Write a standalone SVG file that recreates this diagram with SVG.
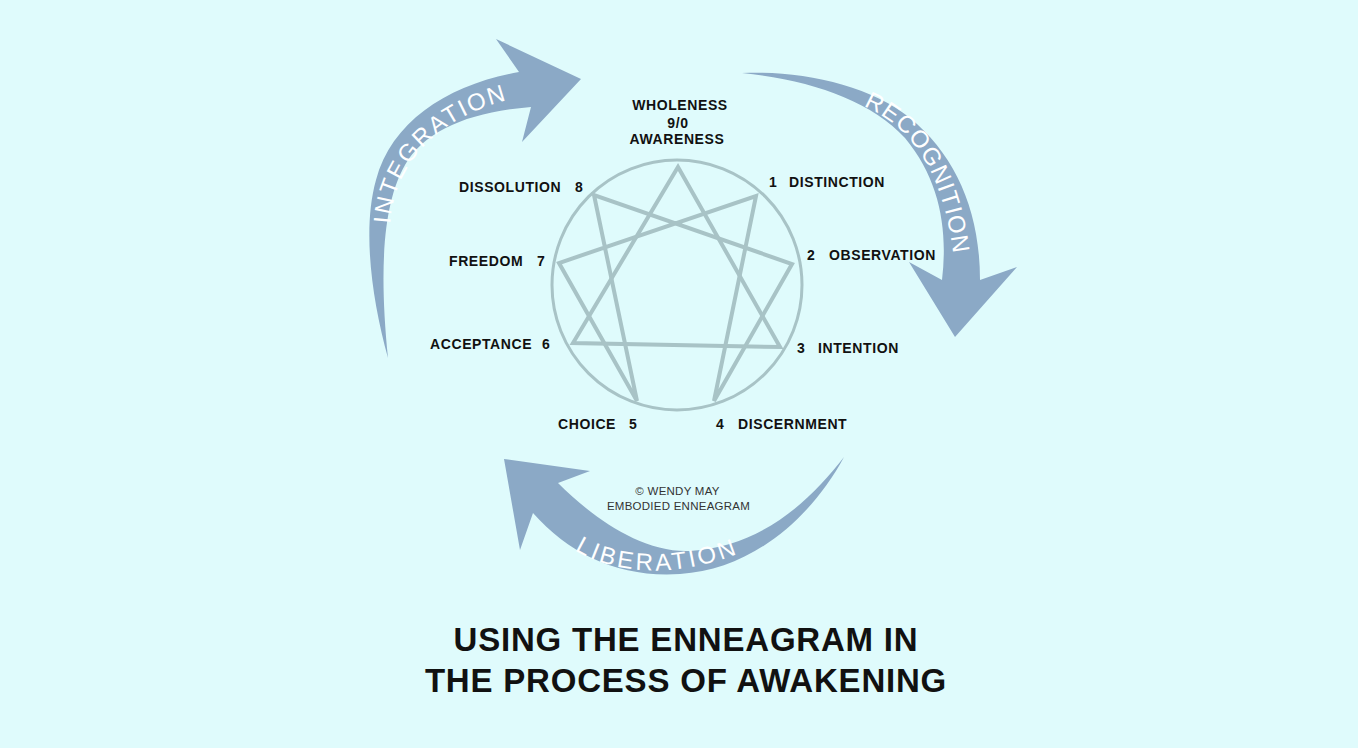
<svg xmlns="http://www.w3.org/2000/svg" width="1358" height="748" viewBox="0 0 1358 748">
<style>
.bg{fill:#dffbfc}
.arrow{fill:#8ba9c6}
.atext{font-family:"Liberation Sans",Arial,sans-serif;font-size:24px;fill:#ffffff;letter-spacing:2px}
.lbl{font-family:"Liberation Sans",Arial,sans-serif;font-size:14px;font-weight:700;fill:#111;letter-spacing:0.6px}
.copy{font-family:"Liberation Sans",Arial,sans-serif;font-size:11.5px;fill:#333;letter-spacing:0.25px}
.title{font-family:"Liberation Sans",Arial,sans-serif;font-size:33px;font-weight:700;fill:#111;letter-spacing:0.8px}
.ring{fill:none;stroke:#a8c3c6;stroke-width:3}
.fig{fill:none;stroke:#a8c3c6;stroke-width:4;stroke-linejoin:miter}
</style>
<defs>
<linearGradient id="stem" x1="0" y1="0" x2="0" y2="1">
<stop offset="0" stop-color="#555" stop-opacity="0.2"/>
<stop offset="0.3" stop-color="#555" stop-opacity="1"/>
<stop offset="1" stop-color="#444" stop-opacity="1"/>
</linearGradient>
<path id="pInt" d="M 390,224 C 394,165 436,116 516,98"/>
<path id="pRec" d="M 852,102 C 902,118 941,160 953,252"/>
<path id="pLib" d="M 565,543 C 610,579 690,581 765,541"/>
</defs>
<rect class="bg" x="0" y="0" width="1358" height="748"/>

<g id="connectors">
<g id="integration">
<path class="arrow" d="M 388,358 C 372,300 362,230 376,180 C 392,120 450,84 519,72 L 496,39 L 581,79 L 522,142 L 531,107 C 470,112 425,130 405,165 C 385,200 378,260 388,358 Z"/>
<text class="atext"><textPath href="#pInt" startOffset="0">INTEGRATION</textPath></text>
</g>
<g id="recognition">
<path class="arrow" d="M 742,73 C 800,70 870,85 910,118 C 955,155 980,210 980,280 L 1017,267 L 955,337 L 909,262 L 942,280 C 948,230 940,180 905,138 C 870,100 810,80 742,73 Z"/>
<text class="atext" style="letter-spacing:1.2px"><textPath href="#pRec" startOffset="12">RECOGNITION</textPath></text>
</g>
<g id="liberation">
<path class="arrow" d="M 844,457 C 812,498 765,546 690,551 C 640,553 590,515 558,483 L 590,471 L 504,459 L 520,550 L 533,513 C 570,555 620,578 680,574 C 750,570 810,520 844,457 Z"/>
<text class="atext" style="letter-spacing:3px"><textPath href="#pLib" startOffset="12">LIBERATION</textPath></text>
</g>
</g>

<g id="enneagram">
<circle class="ring" cx="677" cy="285" r="125"/>
<polygon class="fig" points="678,167 780,347 573,343"/>
<polygon class="fig" points="756,196 714,401 792,264 594,195 637,401 559,263"/>
<line x1="677.5" y1="364" x2="677.5" y2="457" stroke="url(#stem)" stroke-width="1.6"/>
</g>

<g id="node-9">
<text class="lbl" x="680" y="109.5" text-anchor="middle">WHOLENESS</text>
<text class="lbl" x="678" y="127.5" text-anchor="middle">9/0</text>
<text class="lbl" x="677" y="144" text-anchor="middle">AWARENESS</text>
</g>
<g id="node-1">
<text class="lbl" x="769" y="187">1</text>
<text class="lbl" x="789" y="187">DISTINCTION</text>
</g>
<g id="node-2">
<text class="lbl" x="807" y="260">2</text>
<text class="lbl" x="829" y="260">OBSERVATION</text>
</g>
<g id="node-3">
<text class="lbl" x="797" y="353">3</text>
<text class="lbl" x="818" y="353">INTENTION</text>
</g>
<g id="node-4">
<text class="lbl" x="716" y="429">4</text>
<text class="lbl" x="738" y="429">DISCERNMENT</text>
</g>
<g id="node-5">
<text class="lbl" x="558" y="429">CHOICE</text>
<text class="lbl" x="629" y="429">5</text>
</g>
<g id="node-6">
<text class="lbl" x="430" y="349">ACCEPTANCE</text>
<text class="lbl" x="542" y="349">6</text>
</g>
<g id="node-7">
<text class="lbl" x="449" y="266">FREEDOM</text>
<text class="lbl" x="537" y="266">7</text>
</g>
<g id="node-8">
<text class="lbl" x="459" y="192">DISSOLUTION</text>
<text class="lbl" x="575" y="192">8</text>
</g>

<g id="copyright">
<text class="copy" x="677.5" y="495" text-anchor="middle">© WENDY MAY</text>
<text class="copy" x="678.5" y="510" text-anchor="middle">EMBODIED ENNEAGRAM</text>
</g>

<g id="title">
<text class="title" x="686" y="651" text-anchor="middle">USING THE ENNEAGRAM IN</text>
<text class="title" x="686" y="692" text-anchor="middle">THE PROCESS OF AWAKENING</text>
</g>
</svg>
